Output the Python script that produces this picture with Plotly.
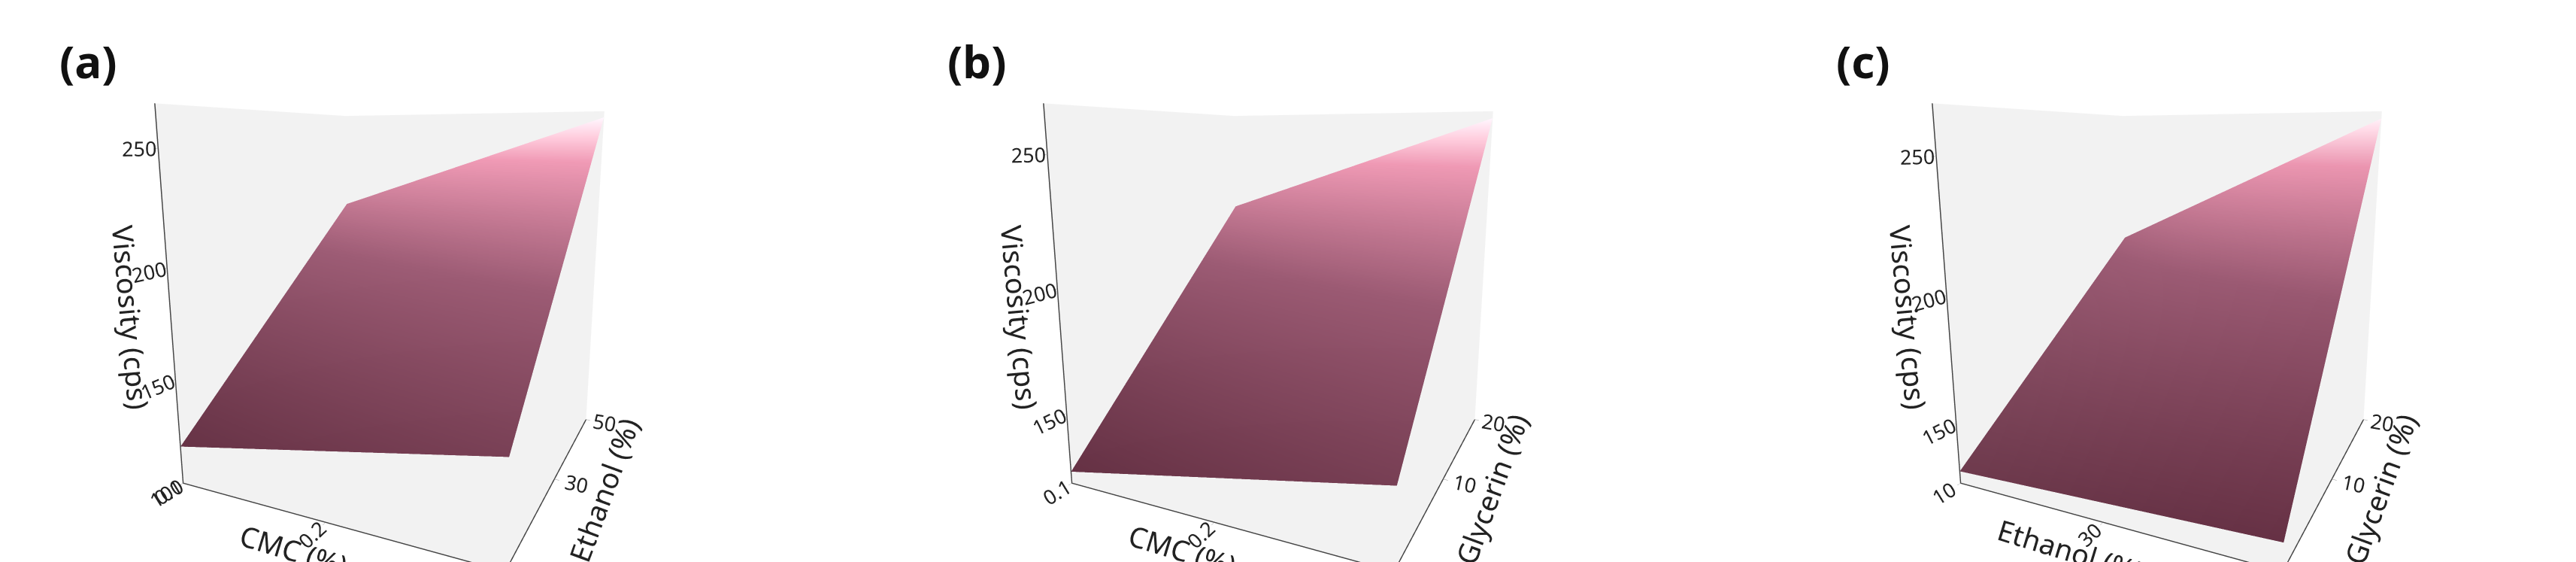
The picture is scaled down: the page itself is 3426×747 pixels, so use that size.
import plotly.graph_objects as go
import numpy as np

cmc = [0.1, 0.3]
ethanol = [10, 50]
glycerin = [0, 20]
# viscosity at grid corners, rows = second factor, cols = first factor
visc_a = [[118, 145], [215, 265]]   # CMC x Ethanol
visc_b = [[125, 150], [220, 265]]   # CMC x Glycerin
visc_c = [[130, 135], [205, 265]]   # Ethanol x Glycerin

panels = [
    ("(a)", cmc, ethanol, visc_a, "CMC (%)", "Ethanol (%)", [0.1, 0.2, 0.3], [10, 30, 50], [100, 150, 200, 250], [100, 268]),
    ("(b)", cmc, glycerin, visc_b, "CMC (%)", "Glycerin (%)", [0.1, 0.2, 0.3], [0, 10, 20], [150, 200, 250], [120, 268]),
    ("(c)", ethanol, glycerin, visc_c, "Ethanol (%)", "Glycerin (%)", [10, 30, 50], [0, 10, 20], [150, 200, 250], [125, 268]),
]

cs = [[0, "#5a2639"], [0.5, "#8e4d66"], [0.85, "#e08aa5"], [1, "#fbe6ee"]]
fig = go.Figure()
doms = [[0.0, 0.31], [0.345, 0.655], [0.69, 1.0]]
tfont = dict(family="Noto Sans", size=38, color="#222")
for i, (lab, xs, ys, zz, xt, yt, xtk, ytk, ztk, zr) in enumerate(panels):
    xg = np.linspace(xs[0], xs[1], 20)
    yg = np.linspace(ys[0], ys[1], 20)
    z = np.array(zz, dtype=float)
    u = (xg - xs[0]) / (xs[1] - xs[0])
    v = (yg - ys[0]) / (ys[1] - ys[0])
    U, V = np.meshgrid(u, v)
    Z = z[0, 0]*(1-U)*(1-V) + z[0, 1]*U*(1-V) + z[1, 0]*(1-U)*V + z[1, 1]*U*V
    sid = "scene" if i == 0 else f"scene{i+1}"
    fig.add_trace(go.Surface(x=xg, y=yg, z=Z, surfacecolor=Z, colorscale=cs, showscale=False,
                             cmin=z.min(), cmax=z.max(),
                             lighting=dict(ambient=0.85, diffuse=0.3, specular=0.15, roughness=0.6, fresnel=0.05),
                             scene=sid))
    ax = dict(showbackground=True, backgroundcolor="#f2f2f2", showgrid=False, zeroline=False,
              showline=True, linecolor="#444", linewidth=3, ticks="outside", tickcolor="#999",
              tickfont=dict(family="Noto Sans", size=18, color="#222"), showspikes=False)
    fig.update_layout(**{sid: dict(
        domain=dict(x=doms[i], y=[0, 1]),
        xaxis=dict(ax, title=dict(text=xt, font=tfont), tickvals=xtk, range=xs),
        yaxis=dict(ax, title=dict(text=yt, font=tfont), tickvals=ytk, range=ys),
        zaxis=dict(ax, title=dict(text="Viscosity (cps)", font=tfont), tickvals=ztk, range=zr),
        camera=dict(eye=dict(x=0.9, y=-1.9, z=0.45)),
        aspectmode="manual", aspectratio=dict(x=1, y=1, z=1.1))})
    fig.add_annotation(text=f"<b>{lab}</b>", x=doms[i][0] + 0.02, y=0.96, xref="paper", yref="paper",
                       showarrow=False, font=dict(family="Noto Sans", size=60, color="#111"),
                       xanchor="left", yanchor="top")

fig.update_layout(width=3426, height=747, margin=dict(l=0, r=0, t=0, b=0),
                  paper_bgcolor="white", showlegend=False)
fig.write_html("out.html")
